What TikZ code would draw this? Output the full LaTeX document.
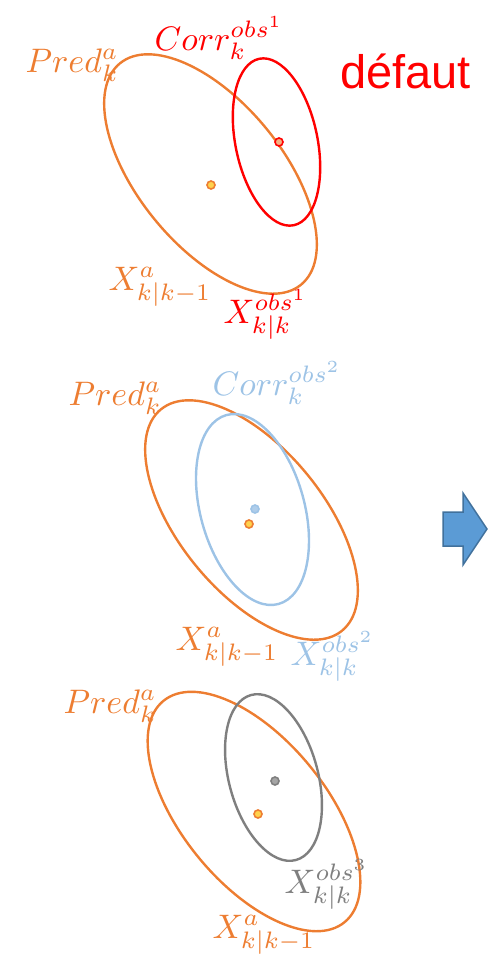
\documentclass[tikz,border=0pt]{standalone}
\usepackage{fontspec}
\newfontfamily\sansarial{Liberation Sans}
\definecolor{orgc}{HTML}{ED7D31}
\definecolor{redc}{HTML}{FF0000}
\definecolor{bluec}{HTML}{9DC3E6}
\definecolor{grayc}{HTML}{7F7F7F}
\definecolor{arrfill}{HTML}{5B9BD5}
\definecolor{arrline}{HTML}{41719C}
\definecolor{dotyel}{HTML}{FFD24D}
\definecolor{dotsalmon}{HTML}{F4B183}
\definecolor{dotgray}{HTML}{A5A5A5}
\definecolor{dotblue}{HTML}{AFCDEA}
\tikzset{
  lbl/.style={inner sep=0pt, anchor=base west, scale=3.4, transform shape},
  ell/.style={line width=2.4pt},
  dotst/.style={line width=1.6pt},
}
\begin{document}
\begin{tikzpicture}[x=1pt,y=-1pt]
\useasboundingbox (0,0) rectangle (488,959);
% ---------- top ----------
\draw[ell,orgc,rotate around={-50.7:(210.5,174)}] (210.5,174) ellipse [x radius=143pt, y radius=72pt];
\draw[ell,redc,rotate around={-78.3:(276.5,142)}] (276.5,142) ellipse [x radius=85pt, y radius=41pt];
\filldraw[dotst,draw=orgc,fill=dotyel] (211,185) circle [radius=4pt];
\filldraw[dotst,draw=redc,fill=dotsalmon] (279,142) circle [radius=4pt];
\node[lbl,orgc] (pred1) at (25,72) {$Pred^{a}_{k}$};
\node[lbl,redc] (corr1) at (154,50) {$Corr^{obs^1}_{k}$};
\node[inner sep=0pt,anchor=base west,redc,font=\sansarial\fontsize{47}{50}\selectfont] (defaut) at (340,88) {défaut};
\node[lbl,orgc] (xa1) at (108,290) {$X^{a}_{k|k-1}$};
\node[lbl,redc] (xo1) at (223,323) {$X^{obs^1}_{k|k}$};
% ---------- middle ----------
\draw[ell,orgc,rotate around={-50.7:(251.5,520)}] (251.5,520) ellipse [x radius=143pt, y radius=72pt];
\draw[ell,bluec,rotate around={-74.6:(252.5,509.5)}] (252.5,509.5) ellipse [x radius=98pt, y radius=52pt];
\filldraw[dotst,draw=bluec,fill=dotblue] (255,509) circle [radius=4pt];
\filldraw[dotst,draw=orgc,fill=dotyel] (249,524) circle [radius=4pt];
\node[lbl,orgc] (pred2) at (68,405) {$Pred^{a}_{k}$};
\node[lbl,bluec] (corr2) at (212,395) {$Corr^{obs^2}_{k}$};
\node[lbl,orgc] (xa2) at (175,650) {$X^{a}_{k|k-1}$};
\node[lbl,bluec] (xo2) at (290,665) {$X^{obs^2}_{k|k}$};
% ---------- bottom ----------
\draw[ell,orgc,rotate around={-50.7:(254,811.5)}] (254,811.5) ellipse [x radius=143pt, y radius=72pt];
\draw[ell,grayc,rotate around={-74.8:(273.5,777.5)}] (273.5,777.5) ellipse [x radius=85.5pt, y radius=44.5pt];
\filldraw[dotst,draw=grayc,fill=dotgray] (275,781) circle [radius=4pt];
\filldraw[dotst,draw=orgc,fill=dotyel] (258,814) circle [radius=4pt];
\node[lbl,orgc] (pred3) at (63,713) {$Pred^{a}_{k}$};
\node[lbl,grayc] (xo3) at (284,893) {$X^{obs^3}_{k|k}$};
\node[lbl,orgc] (xa3) at (212,938) {$X^{a}_{k|k-1}$};
% ---------- arrow ----------
\filldraw[line width=1.5pt,draw=arrline,fill=arrfill,line join=miter]
  (443,512) -- (463,512) -- (463,493) -- (487,529) -- (463,565) -- (463,546) -- (443,546) -- cycle;
\end{tikzpicture}
\end{document}
